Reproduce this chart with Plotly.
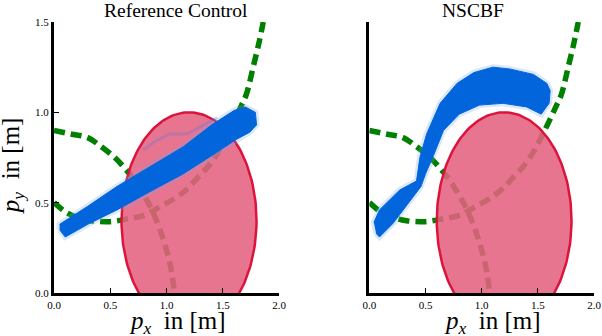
import numpy as np
import plotly.graph_objects as go
from plotly.subplots import make_subplots

# obstacle: circle in data units
OBS_CENTER = (1.2, 0.4)
OBS_RADIUS = 0.6

# green dashed boundary curves (same in both panels)
curve_a_x = [0.0, 0.15, 0.30, 0.42, 0.54, 0.63, 0.72, 0.80, 0.87, 0.93, 0.98, 1.02, 1.05, 1.07]
curve_a_y = [0.90, 0.88, 0.86, 0.81, 0.75, 0.69, 0.62, 0.54, 0.46, 0.37, 0.28, 0.19, 0.10, 0.0]
curve_b_x = [0.0, 0.10, 0.20, 0.33, 0.50, 0.65, 0.80, 0.95, 1.09, 1.19, 1.28, 1.37, 1.45,
             1.52, 1.60, 1.66, 1.71, 1.77, 1.82, 1.86]
curve_b_y = [0.50, 0.45, 0.42, 0.40, 0.395, 0.41, 0.43, 0.48, 0.53, 0.58, 0.64, 0.70, 0.77,
             0.85, 0.95, 1.03, 1.10, 1.25, 1.38, 1.50]

# envelope of the trajectory bundle, reference control (lower edge, then upper edge back)
ref_band_x = [0.05, 0.10, 0.30, 0.56, 0.85, 1.15, 1.40, 1.62, 1.74, 1.80,
              1.79, 1.70, 1.60, 1.40, 1.15, 0.85, 0.56, 0.30, 0.10, 0.05]
ref_band_y = [0.35, 0.31, 0.38, 0.46, 0.56, 0.66, 0.76, 0.85, 0.89, 0.93,
              1.00, 1.03, 1.01, 0.93, 0.81, 0.70, 0.59, 0.48, 0.40, 0.38]
# one stray trajectory above the bundle
ref_stray_x = [0.79, 0.90, 1.03, 1.18, 1.36, 1.45]
ref_stray_y = [0.79, 0.84, 0.88, 0.88, 0.94, 0.97]

# envelope of the trajectory bundle, NSCBF
cbf_band_x = [0.06, 0.09, 0.21, 0.36, 0.46, 0.50, 0.57, 0.66, 0.80, 0.98, 1.19, 1.40, 1.53, 1.60,
              1.61, 1.58, 1.46, 1.25, 1.10, 0.93, 0.78, 0.63, 0.51, 0.45, 0.42, 0.27, 0.09, 0.04]
cbf_band_y = [0.33, 0.31, 0.385, 0.51, 0.59, 0.66, 0.76, 0.90, 0.99, 1.04, 1.05, 1.03, 0.99, 1.05,
              1.12, 1.16, 1.21, 1.24, 1.25, 1.22, 1.16, 1.05, 0.88, 0.75, 0.62, 0.57, 0.46, 0.39]

GREEN = 'rgb(0, 128, 0)'
BLUE = 'rgb(3, 101, 219)'
HALO = 'rgba(110, 165, 240, 0.25)'
FONT = 'Liberation Serif'

theta = np.linspace(0, 2 * np.pi, 200)
circ_x = OBS_CENTER[0] + OBS_RADIUS * np.cos(theta)
circ_y = OBS_CENTER[1] + OBS_RADIUS * np.sin(theta)

fig = make_subplots(rows=1, cols=2, subplot_titles=('Reference Control', 'NSCBF'))

panels = [
    (1, ref_band_x, ref_band_y, (ref_stray_x, ref_stray_y)),
    (2, cbf_band_x, cbf_band_y, None),
]

for col, bx, by, stray in panels:
    for cx, cy in [(curve_a_x, curve_a_y), (curve_b_x, curve_b_y)]:
        fig.add_trace(go.Scatter(
            x=cx, y=cy, mode='lines', line_shape='spline',
            line=dict(color=GREEN, width=5.5, dash='11px,6px'),
            hoverinfo='skip',
        ), row=1, col=col)

    fig.add_trace(go.Scatter(
        x=circ_x, y=circ_y, mode='lines', fill='toself',
        fillcolor='rgba(229, 97, 127, 0.875)',
        line=dict(color='rgb(220, 20, 60)', width=2.5),
        hoverinfo='skip',
    ), row=1, col=col)

    if stray is not None:
        fig.add_trace(go.Scatter(
            x=stray[0], y=stray[1], mode='lines',
            line=dict(color='rgba(90, 120, 230, 0.3)', width=3),
            hoverinfo='skip',
        ), row=1, col=col)

    # fuzzy halo, then solid bundle
    fig.add_trace(go.Scatter(
        x=bx + bx[:1], y=by + by[:1], mode='lines',
        line=dict(color=HALO, width=6),
        hoverinfo='skip',
    ), row=1, col=col)
    fig.add_trace(go.Scatter(
        x=bx, y=by, mode='lines', fill='toself', fillcolor=BLUE,
        line=dict(color=BLUE, width=1),
        hoverinfo='skip',
    ), row=1, col=col)

axis_common = dict(
    showline=True, linewidth=3, linecolor='black', mirror=False,
    showgrid=False, zeroline=False, automargin=False,
    ticks='inside', ticklen=5, tickcolor='black', tickwidth=1,
    tickfont=dict(family=FONT, size=11, color='black'),
    tickformat='.1f', dtick=0.5,
)
xtitle = '<i>p</i><sub><i>x</i></sub>  in [m]'
ytitle = '<i>p</i><sub><i>y</i></sub>  in [m]'
title_font = dict(family=FONT, size=25, color='black')

fig.update_xaxes(axis_common)
fig.update_yaxes(axis_common)
fig.update_xaxes(range=[0, 2], tick0=0)
fig.update_yaxes(range=[0, 1.5], tick0=0)

fig.update_layout(
    width=602, height=336,
    margin=dict(l=54, r=8, t=22, b=43),
    plot_bgcolor='white', paper_bgcolor='white',
    showlegend=False,
    xaxis=dict(domain=[0, 0.4167]),
    xaxis2=dict(domain=[0.584, 1.0]),
    yaxis2=dict(showticklabels=False, ticks=''),
)

for ann in fig.layout.annotations:
    ann.font = dict(family=FONT, size=19.5, color='black')
    ann.yshift = -1

# axis titles placed as annotations below / beside the panels
fig.add_annotation(text=xtitle, xref='x domain', yref='paper', x=0.55, y=0,
                   yanchor='top', yshift=-12, showarrow=False, font=title_font)
fig.add_annotation(text=xtitle, xref='x2 domain', yref='paper', x=0.55, y=0,
                   yanchor='top', yshift=-12, showarrow=False, font=title_font)
fig.add_annotation(text=ytitle, xref='paper', yref='y domain', x=0, y=0.47,
                   xanchor='right', xshift=-24, textangle=-90, showarrow=False,
                   font=title_font)

fig.write_html("out.html", config={'displayModeBar': False},
               post_script="document.body.style.margin='0';")
